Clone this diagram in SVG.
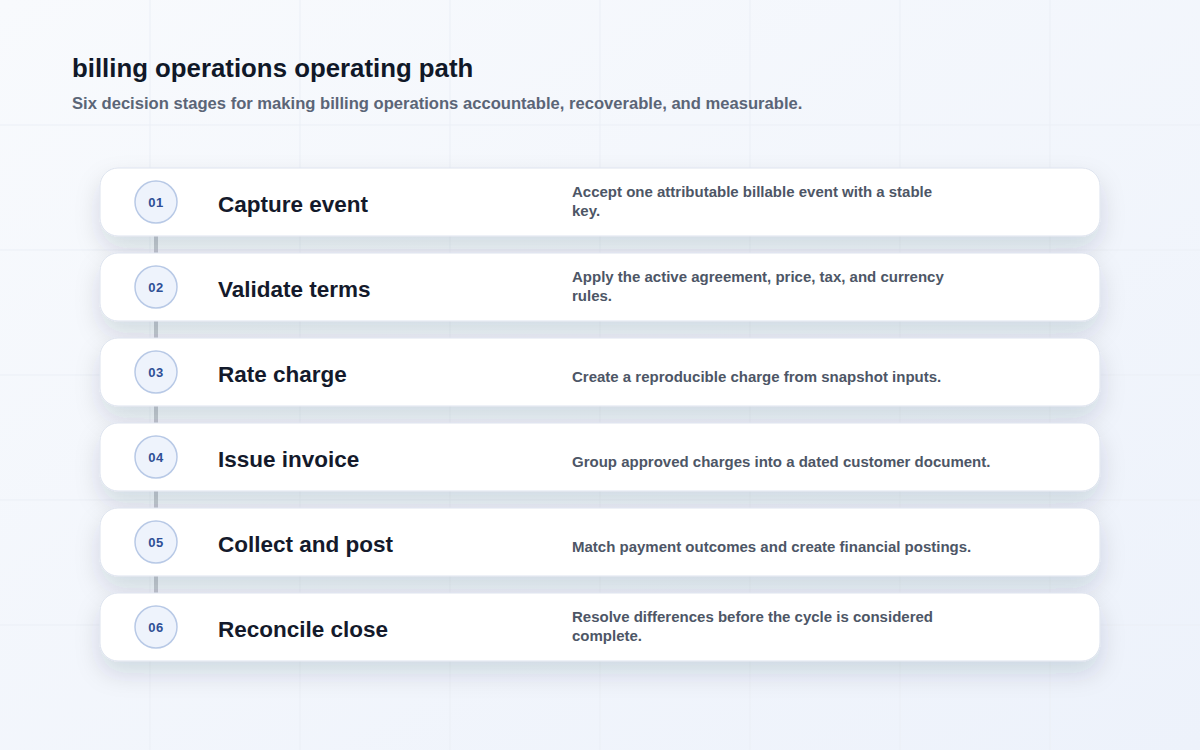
<svg xmlns="http://www.w3.org/2000/svg" width="1200" height="750" viewBox="0 0 1200 750">
<defs>
<linearGradient id="bg" x1="0" y1="0" x2="1" y2="1">
<stop offset="0" stop-color="#f8fafd"/>
<stop offset="1" stop-color="#edf2fb"/>
</linearGradient>
<filter id="sh" x="-10%" y="-50%" width="120%" height="220%">
<feDropShadow dx="0" dy="12" stdDeviation="12" flood-color="#1e2a4a" flood-opacity="0.14"/>
</filter>
<style>
.grid{stroke:#ebeff6;stroke-width:1}
.card{fill:#ffffff;stroke:#dde3ee;stroke-width:1;filter:url(#sh)}
.badge{fill:#eef3fc;stroke:#b8c9e6;stroke-width:1.5}
.num{font-family:"Liberation Sans",Arial,sans-serif;font-size:13px;font-weight:700;fill:#2f4f96;text-anchor:middle;letter-spacing:0.6px}
.ttl{font-family:"Liberation Sans",Arial,sans-serif;font-size:22.5px;font-weight:700;fill:#141a2b}
.desc{font-family:"Liberation Sans",Arial,sans-serif;font-size:15px;font-weight:700;fill:#4d5666}
.conn{stroke:#c5c9d1;stroke-width:4;fill:none}
</style>
</defs>
<rect width="1200" height="750" fill="url(#bg)"/>
<g id="grid">
<line class="grid" x1="150" y1="0" x2="150" y2="750"/>
<line class="grid" x1="300" y1="0" x2="300" y2="750"/>
<line class="grid" x1="450" y1="0" x2="450" y2="750"/>
<line class="grid" x1="600" y1="0" x2="600" y2="750"/>
<line class="grid" x1="750" y1="0" x2="750" y2="750"/>
<line class="grid" x1="900" y1="0" x2="900" y2="750"/>
<line class="grid" x1="1050" y1="0" x2="1050" y2="750"/>
<line class="grid" x1="0" y1="125" x2="1200" y2="125"/>
<line class="grid" x1="0" y1="250" x2="1200" y2="250"/>
<line class="grid" x1="0" y1="375" x2="1200" y2="375"/>
<line class="grid" x1="0" y1="500" x2="1200" y2="500"/>
<line class="grid" x1="0" y1="625" x2="1200" y2="625"/>
</g>
<g id="header">
<text x="72" y="77" font-family="Liberation Sans, Arial, sans-serif" font-size="25.8" font-weight="700" fill="#101828">billing operations operating path</text>
<text x="72" y="109" font-family="Liberation Sans, Arial, sans-serif" font-size="16.6" font-weight="700" fill="#5b6577">Six decision stages for making billing operations accountable, recoverable, and measurable.</text>
</g>
<g id="connectors">
<line class="conn" x1="156" y1="223" x2="156" y2="266"/>
<line class="conn" x1="156" y1="308" x2="156" y2="351"/>
<line class="conn" x1="156" y1="393" x2="156" y2="436"/>
<line class="conn" x1="156" y1="478" x2="156" y2="521"/>
<line class="conn" x1="156" y1="563" x2="156" y2="606"/>
</g>
<g id="stage-01">
<rect class="card" x="100" y="168" width="1000" height="68" rx="18"/>
<circle class="badge" cx="156" cy="202" r="21"/>
<text class="num" x="156" y="207">01</text>
<text class="ttl" x="218" y="212">Capture event</text>
<text class="desc" x="572" y="197">Accept one attributable billable event with a stable</text>
<text class="desc" x="572" y="216">key.</text>
</g>
<g id="stage-02">
<rect class="card" x="100" y="253" width="1000" height="68" rx="18"/>
<circle class="badge" cx="156" cy="287" r="21"/>
<text class="num" x="156" y="292">02</text>
<text class="ttl" x="218" y="297">Validate terms</text>
<text class="desc" x="572" y="282">Apply the active agreement, price, tax, and currency</text>
<text class="desc" x="572" y="301">rules.</text>
</g>
<g id="stage-03">
<rect class="card" x="100" y="338" width="1000" height="68" rx="18"/>
<circle class="badge" cx="156" cy="372" r="21"/>
<text class="num" x="156" y="377">03</text>
<text class="ttl" x="218" y="382">Rate charge</text>
<text class="desc" x="572" y="382">Create a reproducible charge from snapshot inputs.</text>
</g>
<g id="stage-04">
<rect class="card" x="100" y="423" width="1000" height="68" rx="18"/>
<circle class="badge" cx="156" cy="457" r="21"/>
<text class="num" x="156" y="462">04</text>
<text class="ttl" x="218" y="467">Issue invoice</text>
<text class="desc" x="572" y="467">Group approved charges into a dated customer document.</text>
</g>
<g id="stage-05">
<rect class="card" x="100" y="508" width="1000" height="68" rx="18"/>
<circle class="badge" cx="156" cy="542" r="21"/>
<text class="num" x="156" y="547">05</text>
<text class="ttl" x="218" y="552">Collect and post</text>
<text class="desc" x="572" y="552">Match payment outcomes and create financial postings.</text>
</g>
<g id="stage-06">
<rect class="card" x="100" y="593" width="1000" height="68" rx="18"/>
<circle class="badge" cx="156" cy="627" r="21"/>
<text class="num" x="156" y="632">06</text>
<text class="ttl" x="218" y="637">Reconcile close</text>
<text class="desc" x="572" y="622">Resolve differences before the cycle is considered</text>
<text class="desc" x="572" y="641">complete.</text>
</g>
</svg>
